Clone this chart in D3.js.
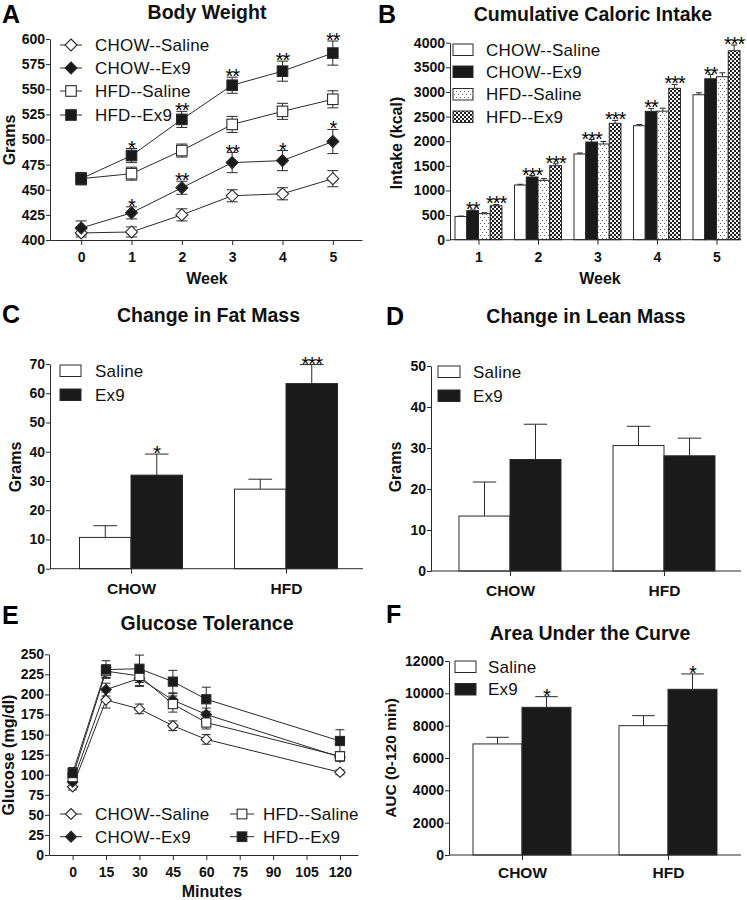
<!DOCTYPE html>
<html><head><meta charset="utf-8">
<script src="https://cdn.jsdelivr.net/npm/d3@7"></script>
<style>body{margin:0;background:#fff} svg{display:block}</style>
</head><body><script>
// ---------- DATA ----------
const groupNames = ["CHOW--Saline","CHOW--Ex9","HFD--Saline","HFD--Ex9"];
// A: Body weight
const weeksA = [0,1,2,3,4,5];
const bwTicks = [400,425,450,475,500,525,550,575,600];
const bwChowSaline    = [407,408,425,444,446,461];
const bwChowSalineErr = [4,5,6,6,6,8];
const bwChowEx9       = [412,427,452,477,479,498];
const bwChowEx9Err    = [7,6,6.5,10,10,12];
const bwHfdSaline     = [461,466,489,515,528,540];
const bwHfdSalineErr  = [6,6.5,6.5,8,8,8.5];
const bwHfdEx9        = [461,484,520,554,568,586];
const bwHfdEx9Err     = [6,7,8,8,10,12];
const bwStarsChowEx9  = ["","*","**","**","*","*"];
const bwStarsHfdEx9   = ["","*","**","**","**","**"];
// B: cumulative caloric intake
const weeksB = [1,2,3,4,5];
const ciTicks = [0,500,1000,1500,2000,2500,3000,3500,4000];
const ciChowSaline    = [470,1110,1740,2314,2943];
const ciChowSalineErr = [10,15,20,25,40];
const ciChowEx9       = [590,1273,1984,2606,3268];
const ciChowEx9Err    = [15,30,50,60,85];
const ciHfdSaline     = [528,1205,1943,2610,3309];
const ciHfdSalineErr  = [20,35,50,60,80];
const ciHfdEx9        = [690,1502,2363,3073,3837];
const ciHfdEx9Err     = [25,40,60,80,115];
const ciStarsChowEx9  = ["**","***","***","**","**"];
const ciStarsHfdEx9   = ["***","***","***","***","***"];
// C/D/F categories
const diets = ["CHOW","HFD"];
const treatments = ["Saline","Ex9"];
// C: change in fat mass
const fatTicks = [0,10,20,30,40,50,60,70];
const fatSaline = [10.7,27.2], fatSalineErr = [4.0,3.4];
const fatEx9 = [32.0,63.3], fatEx9Err = [7.2,6.5];
const fatStars = ["*","***"];
// D: change in lean mass
const leanTicks = [0,10,20,30,40,50];
const leanSaline = [13.4,30.6], leanSalineErr = [8.3,4.7];
const leanEx9 = [27.2,28.1], leanEx9Err = [8.6,4.3];
const leanStars = ["",""];
// E: glucose tolerance
const minutes = [0,15,30,45,60,120];
const gtXTicks = [0,15,30,45,60,75,90,105,120];
const gtYTicks = [0,25,50,75,100,125,150,175,200,225,250];
const gtChowSaline    = [85,193,182,161,144,103];
const gtChowSalineErr = [4,10,6,6,6,3];
const gtChowEx9       = [91,206,220,193,175,122];
const gtChowEx9Err    = [5,8,10,8,8,5];
const gtHfdSaline     = [97,229,223,188,165,123];
const gtHfdSalineErr  = [6,8,12,10,8,6];
const gtHfdEx9        = [102,231,232,216,194,142];
const gtHfdEx9Err     = [7,11,17,14,15,14];
// F: AUC
const aucTicks = [0,2000,4000,6000,8000,10000,12000];
const aucSaline = [6870,8000], aucSalineErr = [410,620];
const aucEx9 = [9135,10250], aucEx9Err = [660,950];
const aucStars = ["*","*"];

// ---------- STYLE HELPERS ----------
const FONT = '"Liberation Sans", Arial, Helvetica, sans-serif';
const INK = "#2a2a2a";
const BLACK = "#1a1a1a";
const fmt = d3.format("d");
const svg = d3.select("body").append("svg").attr("width",747).attr("height",900);

const defs = svg.append("defs");
const pD = defs.append("pattern").attr("id","dots").attr("patternUnits","userSpaceOnUse").attr("width",4).attr("height",6);
pD.append("rect").attr("width",4).attr("height",6).attr("fill","#fff");
pD.append("rect").attr("x",0).attr("y",1).attr("width",1).attr("height",1).attr("fill","#666");
pD.append("rect").attr("x",2).attr("y",4).attr("width",1).attr("height",1).attr("fill","#666");
const pC = defs.append("pattern").attr("id","check").attr("patternUnits","userSpaceOnUse").attr("width",4).attr("height",4);
pC.append("rect").attr("width",4).attr("height",4).attr("fill","#f4f4f4");
pC.append("rect").attr("x",0).attr("y",0).attr("width",2).attr("height",2).attr("fill","#222");
pC.append("rect").attr("x",2).attr("y",2).attr("width",2).attr("height",2).attr("fill","#222");

function txt(g,x,y,s,o={}){
  return g.append("text").attr("x",x).attr("y",y).text(s)
    .attr("font-family",FONT).attr("font-size",o.size||16)
    .attr("font-weight",o.weight||"bold").attr("text-anchor",o.anchor||"middle")
    .attr("fill",o.fill||"#111");
}
function vtxt(g,x,y,s,size){
  return g.append("text").attr("transform",`translate(${x},${y}) rotate(-90)`).text(s)
    .attr("font-family",FONT).attr("font-size",size||16).attr("font-weight","bold")
    .attr("text-anchor","middle").attr("fill","#111");
}
function styleAxis(sel,size){
  sel.select(".domain").attr("stroke",INK).attr("stroke-width",1);
  sel.selectAll(".tick line").attr("stroke",INK).attr("stroke-width",1);
  sel.selectAll(".tick text").attr("font-family",FONT).attr("font-size",size||14)
     .attr("font-weight","bold").attr("fill","#111");
}
function marker(g,x,y,shape,fill,r){
  if(shape==="diamond"){
    g.append("path").attr("d",`M${x},${y-r}L${x+r},${y}L${x},${y+r}L${x-r},${y}Z`)
      .attr("fill",fill).attr("stroke",INK).attr("stroke-width",1.1);
  } else {
    const s=r*0.88;
    g.append("rect").attr("x",x-s).attr("y",y-s).attr("width",2*s).attr("height",2*s)
      .attr("fill",fill).attr("stroke",INK).attr("stroke-width",1.1);
  }
}
function star(g,x,yTop,s){
  if(!s) return;
  txt(g,x,yTop+6,s,{size:20,weight:"normal",fill:"#000"}).attr("letter-spacing",-1);
}

function linePanel(g,x,y,xs,series,o){
  const line = d3.line().x((d,i)=>x(xs[i])).y(d=>y(d));
  series.forEach(s=>{
    g.append("path").attr("d",line(s.v)).attr("fill","none").attr("stroke",INK).attr("stroke-width",1);
  });
  series.forEach(s=>{
    s.v.forEach((v,i)=>{
      const cx=x(xs[i]), t=y(v+s.e[i]), b=y(v-s.e[i]);
      g.append("line").attr("x1",cx).attr("x2",cx).attr("y1",t).attr("y2",b).attr("stroke",INK);
      [t,b].forEach(yy=>g.append("line").attr("x1",cx-o.cap).attr("x2",cx+o.cap).attr("y1",yy).attr("y2",yy).attr("stroke",INK));
    });
  });
  series.forEach(s=>{
    s.v.forEach((v,i)=>marker(g,x(xs[i]),y(v),s.shape,s.fill,o.r));
    if(s.stars) s.v.forEach((v,i)=>star(g,x(xs[i]),y(v+s.e[i]),s.stars[i]));
  });
}

function barPanel(g,cx,inner,y,cats,series,axisX0,axisX1){
  const bw = inner.bandwidth();
  series.forEach(s=>{
    cats.forEach((c,i)=>{
      const x0 = cx(c)+inner(s.name);
      const top=y(s.v[i]), et=y(s.v[i]+s.e[i]);
      g.append("rect").attr("x",x0).attr("y",top).attr("width",bw).attr("height",y(0)-top)
        .attr("fill",s.fill).attr("stroke",INK).attr("stroke-width",1);
      const m=x0+bw/2, ch=Math.max(3,bw*0.23);
      g.append("line").attr("x1",m).attr("x2",m).attr("y1",top).attr("y2",et).attr("stroke",INK);
      g.append("line").attr("x1",m-ch).attr("x2",m+ch).attr("y1",et).attr("y2",et).attr("stroke",INK);
      if(s.stars) star(g,m,et,s.stars[i]);
    });
  });
  g.append("line").attr("x1",axisX0).attr("x2",axisX1).attr("y1",y(0)).attr("y2",y(0)).attr("stroke",INK);
}
function legText(g,x,y,s){
  return txt(g,x,y,s,{size:17,weight:"normal",anchor:"start"}).attr("letter-spacing",0.2);
}
function swatchLegend(g,x,tx,baselines,names,fills,w,h){
  names.forEach((n,i)=>{
    g.append("rect").attr("x",x).attr("y",baselines[i]-h).attr("width",w).attr("height",h)
      .attr("fill",fills[i]).attr("stroke",INK).attr("stroke-width",1);
    legText(g,tx,baselines[i],n);
  });
}
function markerLegend(g,mx,l0,l1,tx,cy,name,shape,fill,r){
  g.append("line").attr("x1",l0).attr("x2",l1).attr("y1",cy).attr("y2",cy).attr("stroke",INK);
  marker(g,mx,cy,shape,fill,r);
  legText(g,tx,cy+6,name);
}

// ---------- PANEL A ----------
(function(){
  const g=svg.append("g");
  const x=d3.scaleLinear().domain([-0.62,5.58]).range([50,362]);
  const y=d3.scaleLinear().domain([400,600]).range([240,39]);
  g.append("g").attr("transform","translate(50,0)")
    .call(d3.axisLeft(y).tickValues(bwTicks).tickFormat(fmt).tickSize(4).tickPadding(1).tickSizeOuter(0)).call(styleAxis);
  g.append("g").attr("transform","translate(0,240)")
    .call(d3.axisBottom(x).tickValues(weeksA).tickFormat(fmt).tickSize(5).tickPadding(7).tickSizeOuter(0)).call(styleAxis);
  const series=[
    {name:groupNames[0],v:bwChowSaline,e:bwChowSalineErr,shape:"diamond",fill:"#fff"},
    {name:groupNames[1],v:bwChowEx9,e:bwChowEx9Err,shape:"diamond",fill:BLACK,stars:bwStarsChowEx9},
    {name:groupNames[2],v:bwHfdSaline,e:bwHfdSalineErr,shape:"square",fill:"#fff"},
    {name:groupNames[3],v:bwHfdEx9,e:bwHfdEx9Err,shape:"square",fill:BLACK,stars:bwStarsHfdEx9}
  ];
  linePanel(g,x,y,weeksA,series,{r:6,cap:5.5});
  [45,68,91,115].forEach((cy,i)=>markerLegend(g,71,60,82,95,cy,series[i].name,series[i].shape,series[i].fill,6));
  txt(g,2,23,"A",{size:25,anchor:"start",fill:"#000"});
  txt(g,207,18.5,"Body Weight",{size:19.5});
  txt(g,207,284,"Week",{size:16});
  vtxt(g,15,140,"Grams",16);
})();

// ---------- PANEL B ----------
(function(){
  const g=svg.append("g");
  const y=d3.scaleLinear().domain([0,4000]).range([239.7,42.7]);
  const cx=d3.scalePoint().domain(weeksB).range([478.5,716.5]);
  const inner=d3.scaleBand().domain(groupNames).range([-23.5,23.5]).padding(0);
  g.append("g").attr("transform","translate(450,0)")
    .call(d3.axisLeft(y).tickValues(ciTicks).tickFormat(fmt).tickSize(4).tickPadding(1).tickSizeOuter(0)).call(styleAxis);
  const series=[
    {name:groupNames[0],v:ciChowSaline,e:ciChowSalineErr,fill:"#fff"},
    {name:groupNames[1],v:ciChowEx9,e:ciChowEx9Err,fill:BLACK,stars:ciStarsChowEx9},
    {name:groupNames[2],v:ciHfdSaline,e:ciHfdSalineErr,fill:"url(#dots)"},
    {name:groupNames[3],v:ciHfdEx9,e:ciHfdEx9Err,fill:"url(#check)",stars:ciStarsHfdEx9}
  ];
  barPanel(g,cx,inner,y,weeksB,series,450,741);
  const ax=g.append("g").attr("transform",`translate(0,${y(0)})`)
    .call(d3.axisBottom(cx).tickSize(5).tickPadding(7).tickSizeOuter(0)).call(styleAxis);
  ax.select(".domain").remove();
  swatchLegend(g,453,486,[55.5,77.5,100,122.5],groupNames,series.map(s=>s.fill),20,11.5);
  txt(g,378,23,"B",{size:25,anchor:"start",fill:"#000"});
  txt(g,593,21,"Cumulative Caloric Intake",{size:19.5});
  txt(g,600,284,"Week",{size:16});
  vtxt(g,402,143,"Intake (kcal)",16);
})();

// ---------- generic two-group bar panel ----------
function twoBar(o){
  const g=svg.append("g");
  const y=d3.scaleLinear().domain([0,o.ticks[o.ticks.length-1]]).range([o.y0,o.yTop]);
  const cx=d3.scalePoint().domain(diets).range(o.centers);
  const inner=d3.scaleBand().domain(treatments).range([-o.bw,o.bw]).padding(0);
  g.append("g").attr("transform",`translate(${o.ax},0)`)
    .call(d3.axisLeft(y).tickValues(o.ticks).tickFormat(fmt).tickSize(4).tickPadding(1).tickSizeOuter(0)).call(styleAxis);
  const series=[
    {name:treatments[0],v:o.sal,e:o.salErr,fill:"#fff"},
    {name:treatments[1],v:o.ex,e:o.exErr,fill:BLACK,stars:o.stars}
  ];
  barPanel(g,cx,inner,y,diets,series,o.ax,o.axEnd);
  const ax=g.append("g").attr("transform",`translate(0,${o.y0})`)
    .call(d3.axisBottom(cx).tickSize(5).tickPadding(o.catPad).tickSizeOuter(0)).call(s=>styleAxis(s,15.5));
  ax.select(".domain").remove();
  swatchLegend(g,o.legX,o.legTX,o.legB,treatments,["#fff",BLACK],o.legW,11.5);
  txt(g,o.letterX,o.letterY,o.letter,{size:25,anchor:"start",fill:"#000"});
  txt(g,o.titleX,o.titleY,o.title,{size:19.5});
  vtxt(g,o.ylx,o.yly,o.ylabel,o.ylsize||16);
}
twoBar({ticks:fatTicks,y0:568.7,yTop:364,centers:[131,286],bw:51.5,ax:50,axEnd:363,
  sal:fatSaline,salErr:fatSalineErr,ex:fatEx9,exErr:fatEx9Err,stars:fatStars,catPad:9,
  legX:60,legTX:95,legB:[376.5,400.5],legW:21,letter:"C",letterX:2,letterY:323,
  title:"Change in Fat Mass",titleX:208.5,titleY:322,ylabel:"Grams",ylx:21,yly:467});
twoBar({ticks:leanTicks,y0:571,yTop:366,centers:[510,664],bw:51,ax:431,axEnd:741,
  sal:leanSaline,salErr:leanSalineErr,ex:leanEx9,exErr:leanEx9Err,stars:leanStars,catPad:9,
  legX:438,legTX:473,legB:[377.5,401.5],legW:22,letter:"D",letterX:386,letterY:325,
  title:"Change in Lean Mass",titleX:586,titleY:323,ylabel:"Grams",ylx:401,yly:467});
twoBar({ticks:aucTicks,y0:855,yTop:661,centers:[522,668],bw:49,ax:449,axEnd:741,
  sal:aucSaline,salErr:aucSalineErr,ex:aucEx9,exErr:aucEx9Err,stars:aucStars,catPad:7,
  legX:455,legTX:488,legB:[672.5,695],legW:21,letter:"F",letterX:386,letterY:623,
  title:"Area Under the Curve",titleX:590,titleY:640,ylabel:"AUC (0-120 min)",ylx:396,yly:758,ylsize:15.5});

// ---------- PANEL E ----------
(function(){
  const g=svg.append("g");
  const x=d3.scaleLinear().domain([-10.6,128.1]).range([49,358]);
  const y=d3.scaleLinear().domain([0,250]).range([855,654.3]);
  g.append("g").attr("transform","translate(49,0)")
    .call(d3.axisLeft(y).tickValues(gtYTicks).tickFormat(fmt).tickSize(4).tickPadding(1).tickSizeOuter(0)).call(styleAxis);
  g.append("g").attr("transform","translate(0,855)")
    .call(d3.axisBottom(x).tickValues(gtXTicks).tickFormat(fmt).tickSize(5).tickPadding(7).tickSizeOuter(0)).call(styleAxis);
  const series=[
    {name:groupNames[0],v:gtChowSaline,e:gtChowSalineErr,shape:"diamond",fill:"#fff"},
    {name:groupNames[1],v:gtChowEx9,e:gtChowEx9Err,shape:"diamond",fill:BLACK},
    {name:groupNames[2],v:gtHfdSaline,e:gtHfdSalineErr,shape:"square",fill:"#fff"},
    {name:groupNames[3],v:gtHfdEx9,e:gtHfdEx9Err,shape:"square",fill:BLACK}
  ];
  linePanel(g,x,y,minutes,series,{r:5.2,cap:4.5});
  markerLegend(g,71,60,82,95,814,series[0].name,"diamond","#fff",5.5);
  markerLegend(g,71,60,82,95,836.7,series[1].name,"diamond",BLACK,5.5);
  markerLegend(g,242,230,254,263,814,series[2].name,"square","#fff",5.5);
  markerLegend(g,242,230,254,263,836.7,series[3].name,"square",BLACK,5.5);
  txt(g,2,624,"E",{size:25,anchor:"start",fill:"#000"});
  txt(g,207,630,"Glucose Tolerance",{size:19.5});
  txt(g,212,897,"Minutes",{size:16});
  vtxt(g,14,755,"Glucose (mg/dl)",16);
})();
</script></body></html>
